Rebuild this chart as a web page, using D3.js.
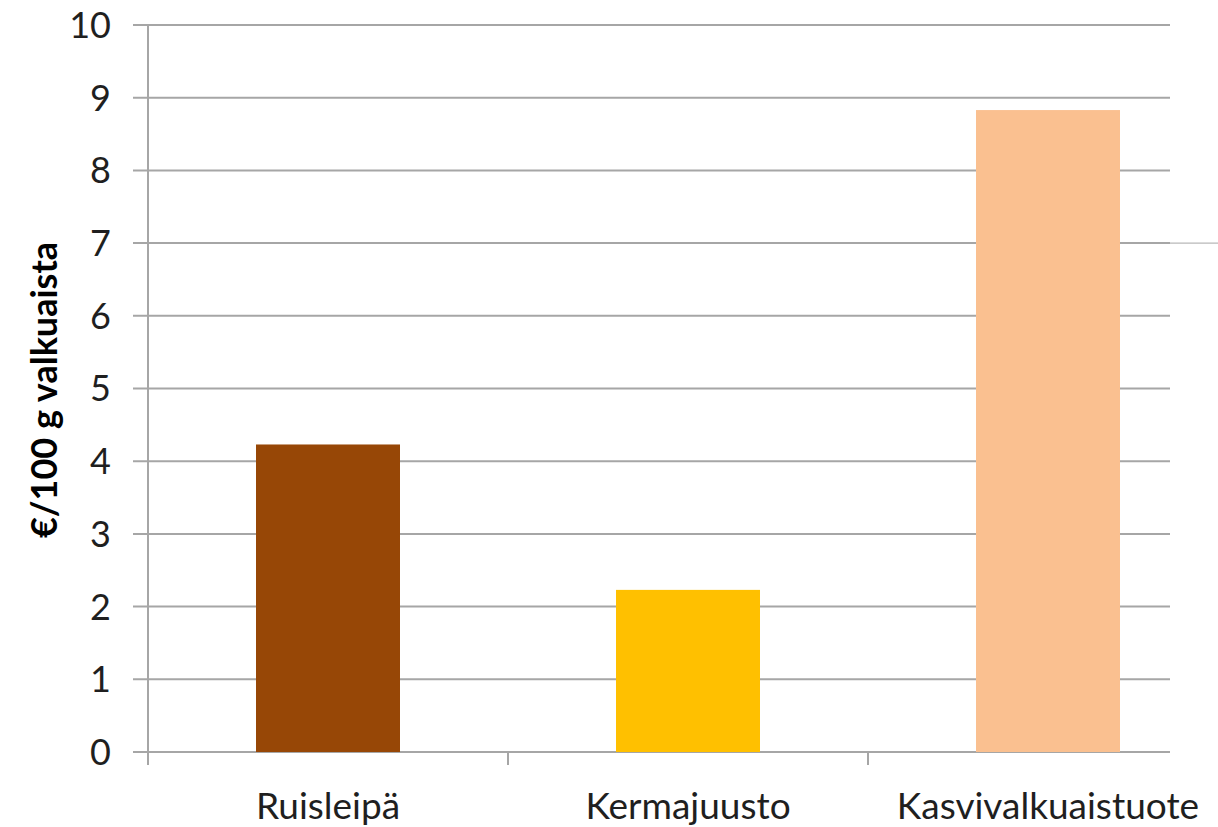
<!DOCTYPE html>
<html>
<head>
<meta charset="utf-8">
<script src="https://cdn.jsdelivr.net/npm/d3@7"></script>
<style>
  html, body { margin: 0; padding: 0; background: #fff; }
  svg { display: block; }
</style>
</head>
<body>
<svg id="chart" width="1218" height="827"></svg>
<script>
// Protein cost per 100 g, by product
const categories = ["Ruisleipä", "Kermajuusto", "Kasvivalkuaistuote"];
const values = [4.23, 2.23, 8.83];
const barColors = ["#974706", "#FFC000", "#FAC090"];
const yTicks = [0, 1, 2, 3, 4, 5, 6, 7, 8, 9, 10];
const yTitle = "€/100 g valkuaista";

(function () {
  const svg = d3.select("#chart");
  const plotLeft = 148, plotTop = 25, plotBottom = 752, bandW = 360;
  const gridRight = 1170;
  const font = "Lato, 'Open Sans', sans-serif";
  const gridColor = "#a6a6a6";

  const x = d3.scaleBand()
    .domain(categories)
    .range([plotLeft, plotLeft + bandW * categories.length])
    .paddingInner(0.6)
    .paddingOuter(0.3);

  const y = d3.scaleLinear().domain([0, 10]).range([plotBottom, plotTop]);

  // horizontal gridlines with left tick marks
  svg.append("g")
    .selectAll("line")
    .data(yTicks)
    .join("line")
    .attr("x1", plotLeft - 15)
    .attr("x2", gridRight)
    .attr("y1", d => y(d))
    .attr("y2", d => y(d))
    .attr("stroke", gridColor)
    .attr("stroke-width", 2);

  // thin stray extension on the 7 line
  svg.append("line")
    .attr("x1", gridRight).attr("x2", 1218)
    .attr("y1", y(7)).attr("y2", y(7))
    .attr("stroke", gridColor).attr("stroke-width", 1);

  // y axis line
  svg.append("line")
    .attr("x1", plotLeft).attr("x2", plotLeft)
    .attr("y1", plotTop).attr("y2", plotBottom + 13)
    .attr("stroke", gridColor).attr("stroke-width", 2);

  // category separators on the x axis
  const sepData = d3.range(1, categories.length).map(i => plotLeft + i * bandW);
  svg.append("g")
    .selectAll("line")
    .data(sepData)
    .join("line")
    .attr("x1", d => d).attr("x2", d => d)
    .attr("y1", plotBottom).attr("y2", plotBottom + 13)
    .attr("stroke", gridColor).attr("stroke-width", 2);

  // bars
  svg.append("g")
    .selectAll("rect")
    .data(categories)
    .join("rect")
    .attr("x", d => x(d))
    .attr("width", x.bandwidth())
    .attr("y", (d, i) => y(values[i]))
    .attr("height", (d, i) => plotBottom - y(values[i]))
    .attr("fill", (d, i) => barColors[i]);

  // y tick labels
  svg.append("g")
    .selectAll("text")
    .data(yTicks)
    .join("text")
    .attr("x", 111)
    .attr("y", d => y(d))
    .attr("dy", "0.36em")
    .attr("text-anchor", "end")
    .attr("font-family", font)
    .attr("font-size", 36)
    .attr("fill", "#1f1f1f")
    .text(d => d);

  // category labels
  svg.append("g")
    .selectAll("text")
    .data(categories)
    .join("text")
    .attr("x", d => x(d) + x.bandwidth() / 2)
    .attr("y", 819)
    .attr("text-anchor", "middle")
    .attr("font-family", font)
    .attr("font-size", 37)
    .attr("fill", "#1f1f1f")
    .text(d => d);

  // y axis title
  svg.append("text")
    .attr("transform", "translate(57,390) rotate(-90)")
    .attr("text-anchor", "middle")
    .attr("font-family", font)
    .attr("font-weight", "bold")
    .attr("font-size", 36)
    .attr("fill", "#000")
    .text(yTitle);
})();
</script>
</body>
</html>
